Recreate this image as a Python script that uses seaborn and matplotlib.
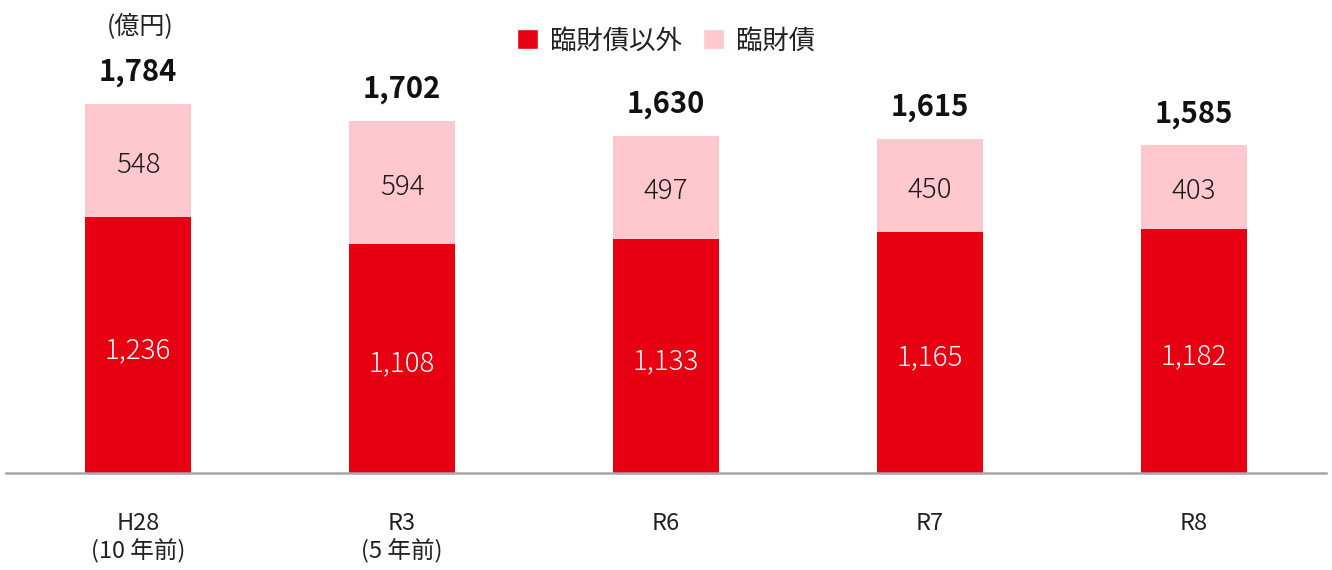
import pandas as pd
import matplotlib
matplotlib.use("Agg")
import matplotlib.pyplot as plt
import seaborn as sns
from matplotlib.patches import Patch

years = ["H28\n(10 年前)", "R3\n(5 年前)", "R6", "R7", "R8"]
other = [1236, 1108, 1133, 1165, 1182]   # 臨財債以外
rinzai = [548, 594, 497, 450, 403]       # 臨財債

RED = "#E60012"
PINK = "#FFC7CE"

df = pd.DataFrame({"year": years, "other": other, "rinzai": rinzai})
df["total"] = df["other"] + df["rinzai"]

sns.set_theme(style="white")
plt.rcParams["font.family"] = ["Noto Sans CJK JP", "DejaVu Sans"]

fig = plt.figure(figsize=(13.32, 5.70), dpi=100)
ax = fig.add_axes([6 / 1332, 97 / 570, 1320 / 1332, 473 / 570])

# total in pink behind, the lower part in red on top
sns.barplot(data=df, x="year", y="total", color=PINK, width=0.4, saturation=1,
            linewidth=0, edgecolor="none", ax=ax)
sns.barplot(data=df, x="year", y="other", color=RED, width=0.4, saturation=1,
            linewidth=0, edgecolor="none", ax=ax)

for i, row in df.iterrows():
    ax.text(i, row["other"] / 2 - 25, f"{row['other']:,}", ha="center", va="center",
            color="white", fontsize=20, fontweight="light")
    ax.text(i, row["other"] + row["rinzai"] / 2 - 20, f"{row['rinzai']:,}", ha="center",
            va="center", color="#1a1a1a", fontsize=20, fontweight="light")
    ax.text(i, row["total"] + 80, f"{row['total']:,}", ha="center", va="bottom",
            color="#111111", fontsize=21, fontweight="bold")

ax.set_xlim(-0.5, 4.5)
ax.set_ylim(0, 2287)
ax.set_xlabel("")
ax.set_ylabel("")
ax.set_yticks([])
for s in ["top", "right", "left"]:
    ax.spines[s].set_visible(False)
ax.spines["bottom"].set_color("#A6A6A6")
ax.spines["bottom"].set_linewidth(1.8)
ax.tick_params(axis="x", length=0, pad=28, labelsize=17, labelcolor="#222222")

fig.text(140 / 1332, 1 - 27 / 570, "(億円)", ha="center", va="center",
         fontsize=18, color="#222222")

handles = [Patch(facecolor=RED, label="臨財債以外"), Patch(facecolor=PINK, label="臨財債")]
fig.legend(handles=handles, loc="center", bbox_to_anchor=(666 / 1332, 1 - 41 / 570),
           ncol=2, frameon=False, fontsize=19, handlelength=0.8, handleheight=0.8,
           handletextpad=0.45, columnspacing=0.8, labelcolor="#222222")

fig.savefig("out.png", dpi=100)
